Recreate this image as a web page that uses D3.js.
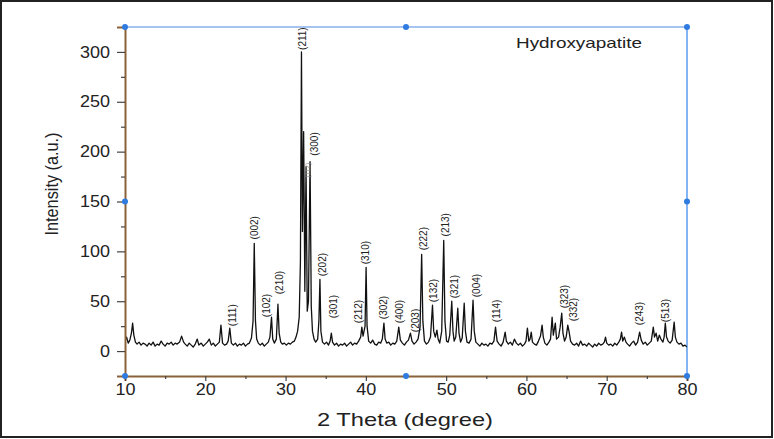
<!DOCTYPE html>
<html lang="en">
<head>
  <meta charset="UTF-8" />
  <title>Hydroxyapatite XRD</title>
  <script src="https://d3js.org/d3.v7.min.js"></script>
  <style>
    body {
      margin: 0;
      background: #fff;
      font-family: 'Liberation Sans', Arial, sans-serif;
    }
    svg {
      display: block;
    }
    .tick text {
      font-family: 'Liberation Sans', Arial, sans-serif;
      fill: #222;
    }
  </style>
</head>
<body>
<svg width="774" height="439"></svg>

<script>
  // axis ticks
  const xMajor = [10, 20, 30, 40, 50, 60, 70, 80];
  const xMinor = [15, 25, 35, 45, 55, 65, 75];
  const yMajor = [0, 50, 100, 150, 200, 250, 300];
  const yMinor = [25, 75, 125, 175, 225, 275];

  // XRD scan: [2 theta, intensity]
  const scan = [
    [10.0, 10], [10.2, 14], [10.4, 8], [10.6, 11], [10.8, 18], [10.95, 28], [11.1, 16], [11.3, 9],
    [11.5, 7], [11.75, 9], [12.0, 6], [12.25, 8], [12.5, 7], [12.75, 5], [13.0, 8], [13.25, 6],
    [13.5, 9], [13.75, 5], [14.0, 7], [14.25, 6], [14.5, 10], [14.75, 7], [15.0, 5], [15.25, 8],
    [15.5, 7], [15.75, 9], [16.0, 6], [16.25, 8], [16.5, 7], [16.8, 9], [17.05, 15], [17.3, 9],
    [17.5, 7], [17.75, 5], [18.0, 8], [18.25, 6], [18.5, 4], [18.75, 7], [19.0, 12], [19.2, 6],
    [19.5, 8], [19.75, 5], [20.0, 7], [20.25, 9], [20.5, 12], [20.75, 6], [21.0, 8], [21.25, 5],
    [21.5, 7], [21.75, 9], [21.95, 26], [22.15, 8], [22.4, 6], [22.65, 7], [22.85, 10], [23.05, 23],
    [23.25, 8], [23.5, 6], [23.75, 8], [24.0, 5], [24.25, 7], [24.5, 6], [24.75, 8], [25.0, 5],
    [25.25, 7], [25.5, 8], [25.75, 13], [25.95, 30], [26.1, 108], [26.25, 30], [26.4, 12], [26.6, 8],
    [26.85, 6], [27.1, 8], [27.35, 5], [27.6, 7], [27.85, 9], [28.05, 14], [28.25, 34], [28.4, 12],
    [28.6, 8], [28.85, 12], [29.05, 47], [29.2, 18], [29.4, 9], [29.6, 7], [29.85, 8], [30.1, 6],
    [30.35, 8], [30.6, 7], [30.85, 9], [31.1, 10], [31.3, 14], [31.5, 20], [31.7, 34], [31.85, 90],
    [31.98, 300], [32.1, 120], [32.25, 220], [32.4, 60], [32.55, 185], [32.7, 40], [32.85, 50], [33.05, 190],
    [33.2, 45], [33.35, 20], [33.55, 12], [33.75, 9], [34.0, 12], [34.15, 30], [34.28, 72], [34.4, 20],
    [34.6, 9], [34.85, 7], [35.1, 9], [35.35, 6], [35.55, 10], [35.7, 18], [35.85, 9], [36.1, 6],
    [36.35, 8], [36.6, 5], [36.85, 7], [37.1, 6], [37.35, 8], [37.6, 5], [37.85, 7], [38.1, 9],
    [38.35, 6], [38.6, 8], [38.85, 7], [39.1, 10], [39.35, 14], [39.5, 24], [39.65, 15], [39.9, 25],
    [40.03, 84], [40.15, 25], [40.35, 10], [40.6, 8], [40.85, 11], [41.1, 7], [41.35, 6], [41.6, 9],
    [41.85, 8], [42.05, 12], [42.25, 28], [42.4, 12], [42.6, 8], [42.85, 9], [43.1, 6], [43.35, 8],
    [43.6, 7], [43.85, 10], [44.1, 24], [44.3, 11], [44.55, 8], [44.8, 6], [45.05, 9], [45.3, 11],
    [45.55, 18], [45.75, 10], [46.0, 7], [46.25, 9], [46.5, 12], [46.75, 24], [46.95, 97], [47.1, 30],
    [47.3, 10], [47.55, 7], [47.8, 9], [48.05, 14], [48.3, 46], [48.45, 20], [48.65, 14], [48.85, 21],
    [49.0, 12], [49.2, 8], [49.45, 20], [49.7, 111], [49.85, 30], [50.05, 10], [50.25, 9], [50.45, 16],
    [50.7, 50], [50.85, 20], [51.0, 10], [51.2, 14], [51.45, 43], [51.6, 18], [51.8, 9], [52.0, 13],
    [52.25, 48], [52.4, 20], [52.6, 9], [52.85, 8], [53.1, 12], [53.35, 51], [53.5, 20], [53.7, 9],
    [53.95, 7], [54.2, 5], [54.45, 8], [54.7, 6], [54.95, 7], [55.2, 5], [55.45, 8], [55.7, 7],
    [55.95, 10], [56.15, 24], [56.35, 10], [56.6, 7], [56.85, 5], [57.1, 9], [57.35, 19], [57.5, 10],
    [57.75, 7], [58.0, 9], [58.25, 6], [58.5, 12], [58.75, 8], [59.0, 6], [59.25, 8], [59.5, 5],
    [59.75, 7], [59.95, 10], [60.12, 23], [60.3, 10], [60.45, 12], [60.6, 19], [60.75, 9], [61.0, 7],
    [61.25, 6], [61.5, 10], [61.75, 15], [61.95, 26], [62.1, 14], [62.3, 8], [62.55, 6], [62.8, 9],
    [63.0, 12], [63.2, 34], [63.35, 16], [63.6, 28], [63.75, 12], [64.0, 14], [64.2, 24], [64.4, 38],
    [64.55, 18], [64.75, 10], [64.95, 14], [65.15, 26], [65.3, 20], [65.5, 10], [65.75, 7], [66.0, 6],
    [66.25, 8], [66.5, 5], [66.75, 10], [67.0, 6], [67.25, 7], [67.5, 5], [67.75, 8], [68.0, 6],
    [68.25, 4], [68.5, 7], [68.75, 5], [69.0, 8], [69.25, 6], [69.5, 7], [69.7, 9], [69.85, 14],
    [70.0, 8], [70.25, 6], [70.5, 7], [70.75, 5], [71.0, 8], [71.25, 6], [71.5, 9], [71.7, 12],
    [71.85, 19], [72.0, 10], [72.2, 14], [72.4, 9], [72.6, 7], [72.85, 5], [73.1, 8], [73.35, 10],
    [73.6, 6], [73.85, 9], [74.1, 19], [74.3, 11], [74.55, 7], [74.8, 9], [75.05, 6], [75.3, 8],
    [75.55, 10], [75.8, 24], [75.95, 14], [76.15, 18], [76.35, 10], [76.55, 16], [76.75, 12], [77.0, 9],
    [77.15, 14], [77.3, 28], [77.45, 14], [77.65, 10], [77.9, 8], [78.15, 11], [78.4, 29], [78.55, 14],
    [78.75, 9], [79.0, 7], [79.25, 8], [79.5, 5], [79.75, 6], [80.0, 4]
  ];

  // peak labels: hkl, 2 theta of label, intensity where label starts
  const peakHkl = ["(111)", "(002)", "(102)", "(210)", "(211)", "(300)", "(202)", "(301)",
    "(212)", "(310)", "(302)", "(400)", "(203)", "(222)", "(132)", "(213)", "(321)", "(004)",
    "(114)", "(323)", "(332)", "(243)", "(513)"];
  const peakAt = [23.45, 26.19, 27.65, 29.2, 32.1, 33.55, 34.6, 36.0,
    39.1, 40.0, 42.25, 44.25, 46.2, 47.15, 48.45, 49.97, 51.0, 53.75,
    56.3, 64.7, 65.9, 74.1, 77.3];
  const labelFrom = [25, 112, 34, 57, 302, 196, 75, 33,
    28, 87, 32, 28, 19, 101, 49, 115, 53, 54,
    29, 43, 30, 26, 29];

  const svg = d3.select("svg");

  const x = d3.scaleLinear().domain([10, 80]).range([125, 687]);
  const y = d3.scaleLinear().domain([-25, 325]).range([376, 27]);

  // outer frame of the picture
  svg.append("rect")
    .attr("x", 1).attr("y", 1)
    .attr("width", 771).attr("height", 436)
    .attr("fill", "none")
    .attr("stroke", "#222")
    .attr("stroke-width", 2);

  // top and right frame lines (blue)
  svg.append("line")
    .attr("x1", x(10)).attr("x2", x(80))
    .attr("y1", y(325)).attr("y2", y(325))
    .attr("stroke", "#a5c4f2").attr("stroke-width", 2);
  svg.append("line")
    .attr("x1", x(80)).attr("x2", x(80))
    .attr("y1", y(325)).attr("y2", y(-25))
    .attr("stroke", "#5d9bef").attr("stroke-width", 1.5);

  // the scan
  const clip = svg.append("defs").append("clipPath").attr("id", "plot-clip");
  clip.append("rect")
    .attr("x", x(10)).attr("y", y(325))
    .attr("width", x(80) - x(10)).attr("height", y(-25) - y(325));

  const line = d3.line()
    .x(d => x(d[0]))
    .y(d => y(d[1]));

  svg.append("path")
    .datum(scan)
    .attr("clip-path", "url(#plot-clip)")
    .attr("fill", "none")
    .attr("stroke", "#111")
    .attr("stroke-width", 1.3)
    .attr("stroke-linejoin", "round")
    .attr("d", line);

  // peak labels
  svg.append("g")
    .selectAll("text")
    .data(peakHkl)
    .enter().append("text")
    .attr("transform", (d, i) => `translate(${x(peakAt[i])},${y(labelFrom[i])}) rotate(-90)`)
    .attr("dy", "0.35em")
    .attr("font-size", 10)
    .attr("fill", "#222")
    .text(d => d);

  // tiny (112) label squeezed between the main peaks
  svg.append("text")
    .attr("transform", `translate(${x(32.75)},${y(174)}) rotate(-90)`)
    .attr("dy", "0.35em")
    .attr("font-size", 6.5)
    .attr("fill", "#888")
    .text("(112)");

  // left axis
  const brown = "#8a6239";
  const yAxis = svg.append("g")
    .attr("transform", `translate(${x(10)},0)`)
    .call(d3.axisLeft(y).tickValues(yMajor).tickSize(8).tickPadding(7).tickFormat(d3.format("d")));
  svg.append("g")
    .attr("transform", `translate(${x(10)},0)`)
    .call(d3.axisLeft(y).tickValues(yMinor).tickSize(4).tickFormat(""))
    .call(g => g.select(".domain").remove());

  // bottom axis
  const xAxis = svg.append("g")
    .attr("transform", `translate(0,${y(-25)})`)
    .call(d3.axisBottom(x).tickValues(xMajor).tickSize(5).tickPadding(3));
  svg.append("g")
    .attr("transform", `translate(0,${y(-25)})`)
    .call(d3.axisBottom(x).tickValues(xMinor).tickSize(3).tickFormat(""))
    .call(g => g.select(".domain").remove());

  svg.selectAll(".domain")
    .attr("stroke", brown)
    .attr("stroke-width", 2);
  svg.selectAll(".tick line")
    .attr("stroke", "#444")
    .attr("stroke-width", 1.2);

  [yAxis, xAxis].forEach(ax => {
    ax.selectAll(".tick text")
      .attr("font-size", 16)
      .attr("textLength", function () { return this.textContent.length * 10; })
      .attr("lengthAdjust", "spacingAndGlyphs");
  });

  // selection handles on the frame
  const handles = [[10, 325], [45, 325], [80, 325], [80, 150], [80, -25], [45, -25], [10, -25], [10, 150]];
  svg.append("g")
    .selectAll("circle")
    .data(handles)
    .enter().append("circle")
    .attr("cx", d => x(d[0]))
    .attr("cy", d => y(d[1]))
    .attr("r", 3)
    .attr("fill", "#2f7be0");

  // axis titles
  svg.append("text")
    .attr("x", 405)
    .attr("y", 426)
    .attr("text-anchor", "middle")
    .attr("font-size", 19)
    .attr("fill", "#222")
    .attr("textLength", 176)
    .attr("lengthAdjust", "spacingAndGlyphs")
    .text("2 Theta (degree)");

  svg.append("text")
    .attr("transform", "translate(58,184) rotate(-90)")
    .attr("text-anchor", "middle")
    .attr("font-size", 18)
    .attr("fill", "#222")
    .attr("textLength", 103)
    .attr("lengthAdjust", "spacingAndGlyphs")
    .text("Intensity (a.u.)");

  // sample name
  svg.append("text")
    .attr("x", 516)
    .attr("y", 48)
    .attr("font-size", 15)
    .attr("fill", "#222")
    .attr("textLength", 126)
    .attr("lengthAdjust", "spacingAndGlyphs")
    .text("Hydroxyapatite");
</script>
</body>
</html>
